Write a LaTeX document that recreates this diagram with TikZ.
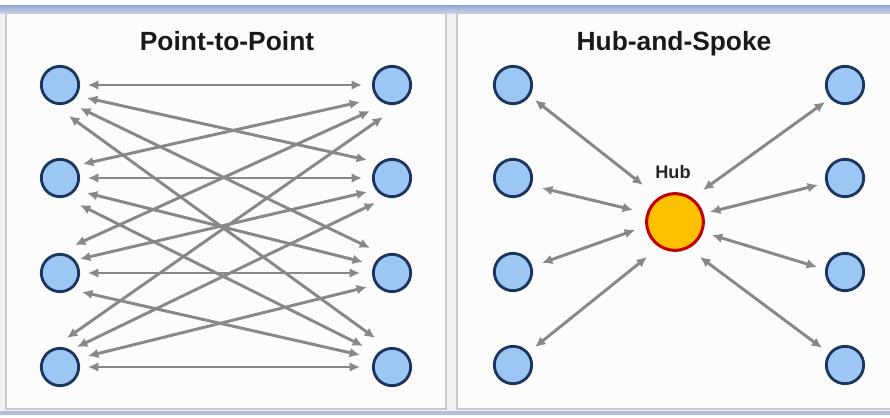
\documentclass[tikz,border=0pt]{standalone}
\usepackage{fontspec}
\setmainfont{Liberation Sans}
\usetikzlibrary{arrows.meta}
\definecolor{nodefill}{HTML}{9CC6F4}
\definecolor{nodeline}{HTML}{1C355C}
\definecolor{arrgray}{HTML}{888888}
\definecolor{hubfill}{HTML}{FFC000}
\definecolor{hubline}{HTML}{C00000}
\definecolor{panelline}{HTML}{C9C9C9}
\definecolor{bandtop}{RGB}{140,166,212}
\definecolor{bandbot}{RGB}{200,213,235}
\definecolor{bandlow}{RGB}{176,192,222}
\begin{document}
\begin{tikzpicture}[x=0.03cm,y=-0.03cm,
  pnode/.style={circle,fill=nodefill,draw=nodeline,line width=2.4pt,minimum size=1.12cm,inner sep=0pt},
  hubnode/.style={circle,fill=hubfill,draw=hubline,line width=2.6pt,minimum size=1.7cm,inner sep=0pt},
  arr/.style={draw=arrgray,line width=2.5pt,{Latex[length=3.1mm,width=2.9mm]}-{Latex[length=3.1mm,width=2.9mm]}},
  ttl/.style={font=\bfseries\fontsize{22.5}{24}\selectfont,text=black!90,anchor=base,inner sep=0pt},
  panel/.style={fill=white!99!black,draw=panelline,line width=1.2pt}]
\useasboundingbox (0,0) rectangle (890,417);
\fill[white] (0,0) rectangle (890,417);
\fill[black!5] (0,12) rectangle (890,411);
\shade[top color=bandtop,bottom color=bandbot] (0,5) rectangle (890,13);
\fill[bandlow] (0,411) rectangle (890,415);
\draw[panel] (6,13) rectangle (446,409);
\draw[panel] (457,13) rectangle (893,409);

% titles
\node[ttl] (t1) at (227,50) {Point-to-Point};
\node[ttl] (t2) at (674,50) {Hub-and-Spoke};

% left panel nodes
\node[pnode] (L1) at (60,85) {};
\node[pnode] (L2) at (60,178) {};
\node[pnode] (L3) at (60,273) {};
\node[pnode] (L4) at (60,367) {};
\node[pnode] (R1) at (392,85) {};
\node[pnode] (R2) at (392,178) {};
\node[pnode] (R3) at (392,273) {};
\node[pnode] (R4) at (392,367) {};

% point-to-point connectors
\draw[arr] ([shift={(28,0)}]L1.center) -- ([shift={(-30,0)}]R1.center);
\draw[arr] ([shift={(27,13)}]L1.center) -- ([shift={(-25,-18)}]R2.center);
\draw[arr] ([shift={(20,23)}]L1.center) -- ([shift={(-22,-25)}]R3.center);
\draw[arr] ([shift={(9,31)}]L1.center) -- ([shift={(-17,-29)}]R4.center);
\draw[arr] ([shift={(23,-14)}]L2.center) -- ([shift={(-32,17)}]R1.center);
\draw[arr] ([shift={(28,0)}]L2.center) -- ([shift={(-30,0)}]R2.center);
\draw[arr] ([shift={(27,15)}]L2.center) -- ([shift={(-29,-11)}]R3.center);
\draw[arr] ([shift={(20,27)}]L2.center) -- ([shift={(-29,-21)}]R4.center);
\draw[arr] ([shift={(15,-28)}]L3.center) -- ([shift={(-22,26)}]R1.center);
\draw[arr] ([shift={(20,-14)}]L3.center) -- ([shift={(-25,14)}]R2.center);
\draw[arr] ([shift={(28,0)}]L3.center) -- ([shift={(-32,0)}]R3.center);
\draw[arr] ([shift={(22,19)}]L3.center) -- ([shift={(-32,-12)}]R4.center);
\draw[arr] ([shift={(7,-29)}]L4.center) -- ([shift={(-9,32)}]R1.center);
\draw[arr] ([shift={(17,-20)}]L4.center) -- ([shift={(-17,25)}]R2.center);
\draw[arr] ([shift={(28,-11)}]L4.center) -- ([shift={(-25,14)}]R3.center);
\draw[arr] ([shift={(28,0)}]L4.center) -- ([shift={(-32,0)}]R4.center);

% hub-and-spoke
\node[hubnode] (H) at (675,222) {};
\node[font=\bfseries\fontsize{15.5}{17}\selectfont,text=black!85,anchor=base,inner sep=0pt] (hl) at (673,178) {Hub};
\node[pnode] (S1) at (513,85) {};
\node[pnode] (S2) at (513,178) {};
\node[pnode] (S3) at (513,272) {};
\node[pnode] (S4) at (513,365) {};
\node[pnode] (T1) at (845,85) {};
\node[pnode] (T2) at (845,178) {};
\node[pnode] (T3) at (845,272) {};
\node[pnode] (T4) at (845,365) {};

\draw[arr] ([shift={(22,15)}]S1.center) -- ([shift={(-32,-37)}]H.center);
\draw[arr] ([shift={(-20,17)}]T1.center) -- ([shift={(28,-32)}]H.center);
\draw[arr] ([shift={(29,10)}]S2.center) -- ([shift={(-42,-12)}]H.center);
\draw[arr] ([shift={(-27,7)}]T2.center) -- ([shift={(35,-10)}]H.center);
\draw[arr] ([shift={(29,-9)}]S3.center) -- ([shift={(-40,8)}]H.center);
\draw[arr] ([shift={(-28,-5)}]T3.center) -- ([shift={(37,13)}]H.center);
\draw[arr] ([shift={(22,-18)}]S4.center) -- ([shift={(-28,35)}]H.center);
\draw[arr] ([shift={(-23,-17)}]T4.center) -- ([shift={(25,35)}]H.center);
\end{tikzpicture}
\end{document}
